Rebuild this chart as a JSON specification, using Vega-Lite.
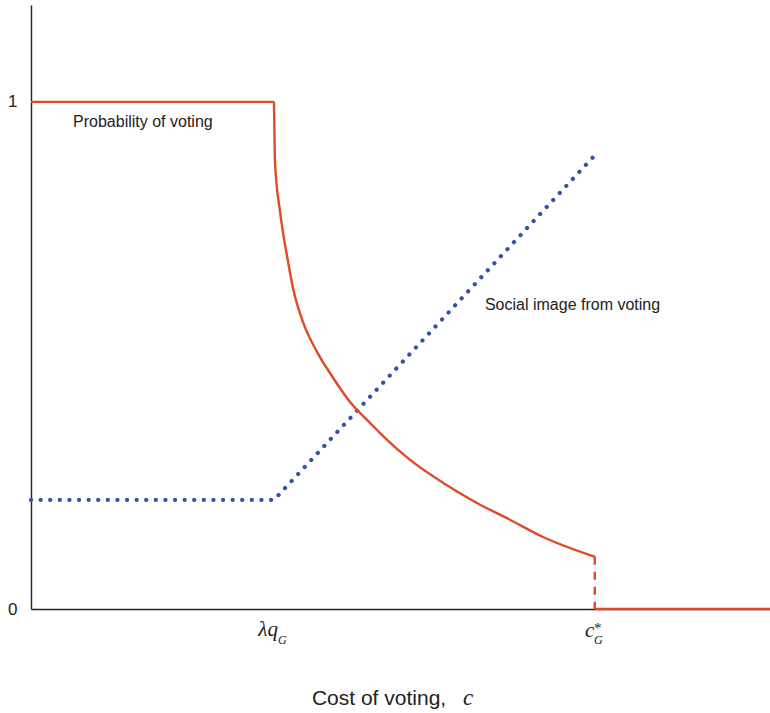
{
  "$schema": "https://vega.github.io/schema/vega-lite/v6.json",
  "autosize": "none",
  "padding": {"left": 31, "top": 5, "right": 0, "bottom": 104},
  "width": 739,
  "height": 604,
  "background": "white",
  "config": {"view": {"stroke": null}},
  "datasets": {
    "flat": [
      {"i": 0, "c": 0, "value": 1},
      {"i": 1, "c": 1.0, "value": 1}
    ],
    "prob": [
      {"i": 1, "c": 1.0, "value": 1},
      {"i": 2, "c": 1.004, "value": 0.882},
      {"i": 3, "c": 1.025, "value": 0.783},
      {"i": 4, "c": 1.053, "value": 0.698},
      {"i": 5, "c": 1.078, "value": 0.633},
      {"i": 6, "c": 1.119, "value": 0.566},
      {"i": 7, "c": 1.177, "value": 0.507},
      {"i": 8, "c": 1.243, "value": 0.456},
      {"i": 9, "c": 1.313, "value": 0.408},
      {"i": 10, "c": 1.395, "value": 0.367},
      {"i": 11, "c": 1.436, "value": 0.347},
      {"i": 12, "c": 1.56, "value": 0.294},
      {"i": 13, "c": 1.695, "value": 0.249},
      {"i": 14, "c": 1.835, "value": 0.209},
      {"i": 15, "c": 1.971, "value": 0.176},
      {"i": 16, "c": 2.107, "value": 0.142},
      {"i": 17, "c": 2.32, "value": 0.103}
    ],
    "jump": [
      {"i": 0, "c": 2.32, "value": 0.103},
      {"i": 1, "c": 2.32, "value": 0}
    ],
    "zero": [
      {"i": 0, "c": 2.32, "value": 0},
      {"i": 1, "c": 3.041, "value": 0}
    ],
    "image": [
      {"i": 0, "c": 0, "value": 0.215},
      {"i": 1, "c": 1.0, "value": 0.215},
      {"i": 2, "c": 2.313, "value": 0.891}
    ],
    "notes": [
      {"c": 0.173, "value": 0.951, "t": "Probability of voting"},
      {"c": 1.868, "value": 0.59, "t": "Social image from voting"}
    ],
    "lam": [
      {"c": 1.016, "value": -0.053, "t": "λq"}
    ],
    "cstar": [
      {"c": 2.28, "value": -0.055, "t": "c"}
    ],
    "sub": [
      {"c": 1.016, "value": -0.069, "t": "G"},
      {"c": 2.317, "value": -0.069, "t": "G"}
    ],
    "star": [
      {"c": 2.317, "value": -0.047, "t": "*"}
    ],
    "title1": [
      {"c": 1.156, "value": -0.189, "t": "Cost of voting,"}
    ],
    "title2": [
      {"c": 1.778, "value": -0.189, "t": "c"}
    ]
  },
  "encoding": {
    "x": {"field": "c", "type": "quantitative", "scale": {"domain": [0, 3.041], "nice": false, "zero": false},
          "axis": {"labels": false, "ticks": false, "grid": false, "title": null, "domainColor": "#222222", "domainWidth": 1.4}},
    "y": {"field": "value", "type": "quantitative", "scale": {"domain": [0, 1.191], "nice": false, "zero": false},
          "axis": {"values": [0, 1], "format": "d", "ticks": false, "grid": false, "title": null, "labelFont": "Liberation Sans", "labelFontSize": 17, "labelColor": "#222222", "labelPadding": 14, "domainColor": "#222222", "domainWidth": 1.4}}
  },
  "layer": [
    {"data": {"name": "image"}, "mark": {"type": "line", "color": "#3553a6", "strokeWidth": 4.2, "strokeCap": "round", "strokeDash": [0.1, 9.5]},
     "encoding": {"order": {"field": "i", "type": "quantitative"}}},
    {"data": {"name": "flat"}, "mark": {"type": "line", "color": "#e04a26", "strokeWidth": 2.4},
     "encoding": {"order": {"field": "i", "type": "quantitative"}}},
    {"data": {"name": "prob"}, "mark": {"type": "line", "color": "#e04a26", "strokeWidth": 2.4, "interpolate": "monotone"},
     "encoding": {"order": {"field": "i", "type": "quantitative"}}},
    {"data": {"name": "jump"}, "mark": {"type": "line", "color": "#e04a26", "strokeWidth": 2.4, "strokeDash": [8, 7]},
     "encoding": {"order": {"field": "i", "type": "quantitative"}}},
    {"data": {"name": "zero"}, "mark": {"type": "line", "color": "#e04a26", "strokeWidth": 2.6},
     "encoding": {"order": {"field": "i", "type": "quantitative"}}},
    {"data": {"name": "notes"}, "mark": {"type": "text", "align": "left", "baseline": "alphabetic", "font": "Liberation Sans", "fontSize": 16, "color": "#222222"},
     "encoding": {"text": {"field": "t"}}},
    {"data": {"name": "lam"}, "mark": {"type": "text", "align": "right", "baseline": "alphabetic", "font": "Liberation Serif", "fontStyle": "italic", "fontSize": 21, "color": "#222222"},
     "encoding": {"text": {"field": "t"}}},
    {"data": {"name": "cstar"}, "mark": {"type": "text", "align": "left", "baseline": "alphabetic", "font": "Liberation Serif", "fontStyle": "italic", "fontSize": 21, "color": "#222222"},
     "encoding": {"text": {"field": "t"}}},
    {"data": {"name": "sub"}, "mark": {"type": "text", "align": "left", "baseline": "alphabetic", "font": "Liberation Serif", "fontStyle": "italic", "fontSize": 12, "color": "#222222"},
     "encoding": {"text": {"field": "t"}}},
    {"data": {"name": "star"}, "mark": {"type": "text", "align": "left", "baseline": "alphabetic", "font": "Liberation Serif", "fontSize": 15, "color": "#222222"},
     "encoding": {"text": {"field": "t"}}},
    {"data": {"name": "title1"}, "mark": {"type": "text", "align": "left", "baseline": "alphabetic", "font": "Liberation Sans", "fontSize": 21, "color": "#222222"},
     "encoding": {"text": {"field": "t"}}},
    {"data": {"name": "title2"}, "mark": {"type": "text", "align": "left", "baseline": "alphabetic", "font": "Liberation Serif", "fontStyle": "italic", "fontSize": 23, "color": "#222222"},
     "encoding": {"text": {"field": "t"}}}
  ]
}
